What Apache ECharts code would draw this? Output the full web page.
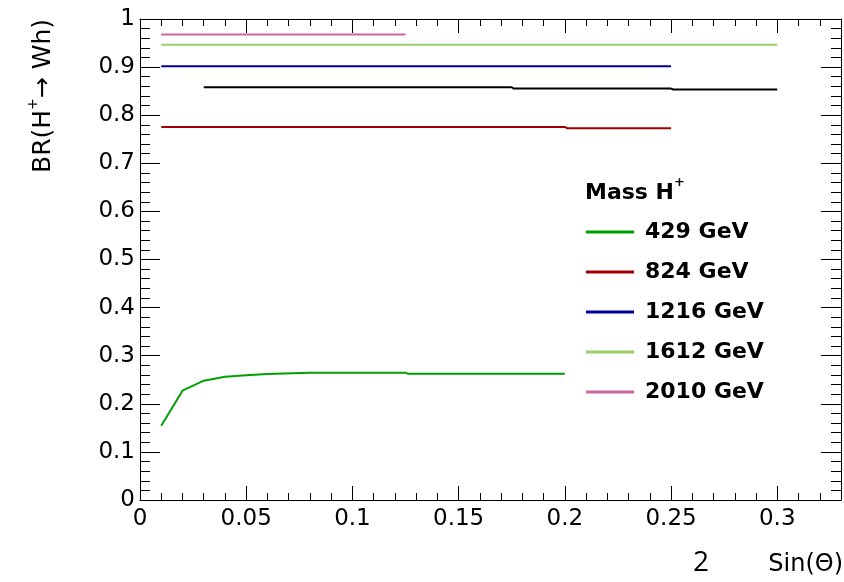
<!DOCTYPE html>
<html>
<head>
<meta charset="utf-8">
<script src="https://cdn.jsdelivr.net/npm/echarts@6/dist/echarts.min.js"></script>
<style>html,body{margin:0;padding:0;background:#fff}#c{width:844px;height:582px}</style>
</head>
<body>
<div id="c"></div>
<script>
// ---- data ----
const xTickLabels = ['0', '0.05', '0.1', '0.15', '0.2', '0.25', '0.3'];
const legendNames = ['429 GeV', '824 GeV', '1216 GeV', '1612 GeV', '2010 GeV'];

const x429 = [0.01, 0.02, 0.03, 0.04, 0.05, 0.06, 0.08, 0.1, 0.125, 0.126, 0.15, 0.175, 0.2];
const y429 = [0.1545, 0.2273, 0.2481, 0.2564, 0.2592, 0.262, 0.2647, 0.2647, 0.2647, 0.2626, 0.2626, 0.2626, 0.2626];

const x824 = [0.01, 0.05, 0.1, 0.15, 0.2, 0.201, 0.25];
const y824 = [0.7757, 0.7757, 0.7757, 0.7757, 0.7757, 0.773, 0.773];

const x1216 = [0.01, 0.05, 0.1, 0.15, 0.2, 0.25];
const y1216 = [0.902, 0.902, 0.902, 0.902, 0.902, 0.902];

const x1612 = [0.01, 0.05, 0.1, 0.15, 0.2, 0.25, 0.3];
const y1612 = [0.9466, 0.9466, 0.9466, 0.9466, 0.9466, 0.9466, 0.9466];

const x2010 = [0.01, 0.05, 0.1, 0.125];
const y2010 = [0.9676, 0.9676, 0.9676, 0.9676];

const xBlack = [0.03, 0.05, 0.1, 0.15, 0.175, 0.176, 0.2, 0.25, 0.251, 0.3];
const yBlack = [0.8581, 0.8581, 0.8581, 0.8581, 0.8581, 0.8554, 0.8554, 0.8554, 0.8534, 0.8534];

const colors = ['#00a000', '#a00000', '#000099', '#99d066', '#cc6699'];

function pairs(xs, ys) { return xs.map((x, i) => [x, ys[i]]); }

const FONT = 'DejaVu Sans';
const chart = echarts.init(document.getElementById('c'), null, { renderer: 'canvas' });

function xAx(pos, interval, tickLen, showLine, showLabel) {
  return {
    type: 'value', position: pos, min: 0, max: 0.33, interval: interval,
    axisLine: { show: showLine, onZero: false, lineStyle: { color: '#000', width: 1 } },
    axisTick: { show: true, inside: true, length: tickLen, lineStyle: { color: '#000', width: 1 } },
    axisLabel: {
      show: showLabel, color: '#000', fontFamily: FONT, fontSize: 23, margin: 8,
      formatter: function (v) {
        const idx = Math.round(v / 0.05);
        if (Math.abs(v - idx * 0.05) > 1e-6 || idx >= xTickLabels.length) return '';
        return xTickLabels[idx];
      }
    },
    splitLine: { show: false }
  };
}
function yAx(pos, showLabel) {
  return {
    type: 'value', position: pos, min: 0, max: 1, interval: 0.1,
    axisLine: { show: true, onZero: false, lineStyle: { color: '#000', width: 1 } },
    axisTick: { show: true, inside: true, length: 20, lineStyle: { color: '#000', width: 1 } },
    minorTick: { show: true, splitNumber: 5, length: 10, lineStyle: { color: '#000', width: 1 } },
    axisLabel: { show: showLabel, color: '#000', fontFamily: FONT, fontSize: 23, margin: 5 },
    splitLine: { show: false }
  };
}

const seriesData = [
  pairs(x429, y429), pairs(x824, y824), pairs(x1216, y1216), pairs(x1612, y1612), pairs(x2010, y2010)
];
const series = seriesData.map((d, i) => ({
  name: legendNames[i], type: 'line', data: d, showSymbol: false, symbol: 'none',
  xAxisIndex: 0, yAxisIndex: 0,
  lineStyle: { color: colors[i], width: 2 }, itemStyle: { color: colors[i] }
}));
series.push({
  name: 'other', type: 'line', data: pairs(xBlack, yBlack), showSymbol: false, symbol: 'none',
  lineStyle: { color: '#000', width: 2 }, itemStyle: { color: '#000' }
});

chart.setOption({
  animation: false,
  backgroundColor: '#fff',
  grid: { left: 140, right: 1, top: 19, bottom: 82, containLabel: false },
  xAxis: [
    xAx('bottom', 0.05, 14, true, true),
    xAx('bottom', 0.01, 7, false, false),
    xAx('top', 0.05, 14, true, false),
    xAx('top', 0.01, 7, false, false)
  ],
  yAxis: [yAx('left', true), yAx('right', false)],
  legend: {
    data: legendNames, orient: 'vertical', left: 586, top: 221, padding: 0,
    icon: 'rect', itemWidth: 48, itemHeight: 3, itemGap: 18,
    textStyle: { fontFamily: FONT, fontWeight: 'bold', fontSize: 22, color: '#000', lineHeight: 22, padding: [0, 0, 0, 6] },
    selectedMode: false
  },
  graphic: [
    {
      type: 'text', x: 41, y: 96, rotation: Math.PI / 2,
      style: {
        text: '{a|BR(H}{s|+}{a|→ Wh)}', align: 'center', verticalAlign: 'middle',
        rich: {
          a: { fontFamily: FONT, fontSize: 25, fill: '#000', lineHeight: 30, verticalAlign: 'bottom' },
          s: { fontFamily: FONT, fontSize: 14, fill: '#000', lineHeight: 30, verticalAlign: 'top' }
        }
      }
    },
    {
      type: 'text', x: 585, y: 190,
      style: {
        text: '{a|Mass H}{s|+}', align: 'left', verticalAlign: 'middle',
        rich: {
          a: { fontFamily: FONT, fontWeight: 'bold', fontSize: 22, fill: '#000', lineHeight: 28, verticalAlign: 'bottom' },
          s: { fontFamily: FONT, fontWeight: 'bold', fontSize: 13, fill: '#000', lineHeight: 28, verticalAlign: 'top' }
        }
      }
    },
    {
      type: 'text', x: 843, y: 565,
      style: { text: 'Sin(Θ)', fontFamily: FONT, fontSize: 24, fill: '#000', align: 'right', verticalAlign: 'middle' }
    },
    {
      type: 'text', x: 701, y: 563,
      style: { text: '2', fontFamily: 'Open Sans', fontSize: 28, fill: '#000', align: 'center', verticalAlign: 'middle' }
    }
  ],
  series: series
});
</script>
</body>
</html>
